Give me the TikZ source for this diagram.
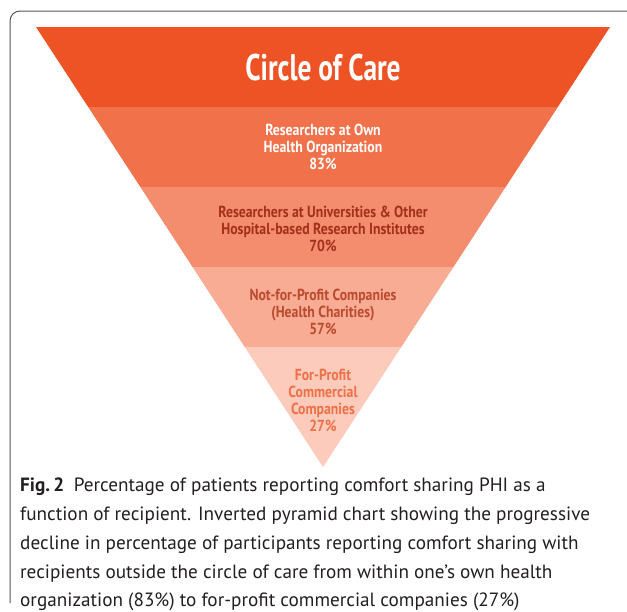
\documentclass[tikz,border=0pt]{standalone}
\usepackage{fontspec}
\setmainfont{PT Sans}
\newfontfamily\condfont[FakeStretch=0.86]{PT Sans}
\newfontfamily\titlefont[FakeStretch=0.74]{PT Sans}
\newfontfamily\capfont{PT Sans}
\definecolor{bandA}{HTML}{EE5325}
\definecolor{bandB}{HTML}{F0714A}
\definecolor{bandC}{HTML}{F38D6E}
\definecolor{bandD}{HTML}{F8AC94}
\definecolor{bandE}{HTML}{FCCBBB}
\definecolor{txtC}{HTML}{A3301B}
\definecolor{txtD}{HTML}{BC4A2E}
\definecolor{txtE}{HTML}{EE7047}
\definecolor{frame}{HTML}{555555}
\definecolor{captxt}{HTML}{231F20}
\begin{document}
\begin{tikzpicture}[x=1pt,y=-1pt,
  label/.style={font=\condfont\bfseries\fontsize{16}{17}\selectfont, align=center, inner sep=0pt},
  capline/.style={font=\capfont\fontsize{19.2}{24}\selectfont, text=captxt, anchor=base west, inner sep=0pt}]
\useasboundingbox (0,0) rectangle (627,611);
\fill[white] (0,0) rectangle (627,611);
% figure frame (open to the right and bottom)
\draw[frame, line width=1pt, rounded corners=10pt] (10,603) -- (10,11) -- (630,11);
% inverted pyramid, banded
\begin{scope}
  \clip (36,27) -- (610,27) -- (323,467) -- cycle;
  \fill[bandA] (0,20) rectangle (627,107);
  \fill[bandB] (0,107) rectangle (627,187);
  \fill[bandC] (0,187) rectangle (627,267);
  \fill[bandD] (0,267) rectangle (627,347);
  \fill[bandE] (0,347) rectangle (627,470);
\end{scope}
\node[font=\titlefont\bfseries\fontsize{37}{40}\selectfont, text=white, inner sep=0pt] (title) at (323,68) {Circle of Care};
\node[label, text=white] (own) at (323,147) {Researchers at Own\\Health Organization\\83\%};
\node[label, text=txtC] (univ) at (323,229) {Researchers at Universities \& Other\\Hospital-based Research Institutes\\70\%};
\node[label, text=txtD] (nfp) at (323,312) {Not-for-Profit Companies\\(Health Charities)\\57\%};
\node[label, text=txtE] (fp) at (323,400) {For-Profit\\Commercial\\Companies\\27\%};
% caption
\node[capline] (c1) at (20,491) {\textbf{Fig.\,2}\enspace Percentage of patients reporting comfort sharing PHI as a};
\node[capline] (c2) at (20,520) {function of recipient. Inverted pyramid chart showing the progressive};
\node[capline] (c3) at (20,549) {decline in percentage of participants reporting comfort sharing with};
\node[capline] (c4) at (20,578) {recipients outside the circle of care from within one’s own health};
\node[capline] (c5) at (20,606) {organization (83\%) to for-profit commercial companies (27\%)};
\end{tikzpicture}
\end{document}
